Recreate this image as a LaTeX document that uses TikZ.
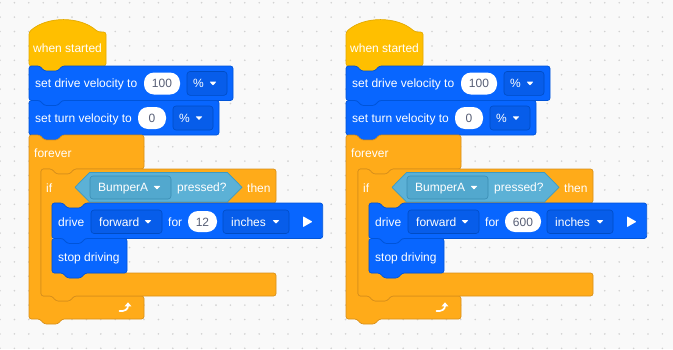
\documentclass[tikz,border=0pt]{standalone}
\usepackage{fontspec}
\setmainfont{Liberation Sans}
\definecolor{bg}{HTML}{F9F9F9}
\definecolor{dotc}{HTML}{D2D2D2}
\definecolor{hatf}{HTML}{FFBF00}
\definecolor{hatd}{HTML}{E3AA00}
\definecolor{ctlf}{HTML}{FFAB19}
\definecolor{ctld}{HTML}{D9901A}
\definecolor{drvf}{HTML}{0866FF}
\definecolor{drvd}{HTML}{0054D9}
\definecolor{ddf}{HTML}{075DEA}
\definecolor{ddd}{HTML}{004CC4}
\definecolor{senf}{HTML}{5CB1D6}
\definecolor{send}{HTML}{3D9BC2}
\definecolor{sddf}{HTML}{52A8CE}
\definecolor{sddd}{HTML}{3A8DB4}
\definecolor{valc}{HTML}{575E75}
\tikzset{
  blk/.style={line width=0.7pt, rounded corners=2.5pt, line join=round},
  hatb/.style={blk, fill=hatf, draw=hatd},
  ctl/.style={blk, fill=ctlf, draw=ctld},
  drv/.style={blk, fill=drvf, draw=drvd},
  dd/.style={fill=ddf, draw=ddd, line width=0.6pt, rounded corners=3pt},
  sdd/.style={fill=sddf, draw=sddd, line width=0.6pt, rounded corners=3pt},
  hexs/.style={fill=senf, draw=send, line width=0.7pt, line join=round},
  pillb/.style={fill=white, rounded corners=10pt},
  lbl/.style={text=white, inner sep=0pt, anchor=base west, font=\fontsize{12}{14}\selectfont},
  val/.style={text=valc, inner sep=0pt, anchor=base, font=\fontsize{12}{14}\selectfont},
}
% stack block: x y w h style
\newcommand\stackblk[5]{%
\draw[#5] (#1,{#2+#4/2}) -- (#1,#2) -- ({#1+11},#2) -- ({#1+15},{#2+5}) -- ({#1+29},{#2+5}) -- ({#1+33},#2) -- ({#1+#3},#2) -- ({#1+#3},{#2+#4}) -- ({#1+33},{#2+#4}) -- ({#1+29},{#2+#4+5}) -- ({#1+15},{#2+#4+5}) -- ({#1+11},{#2+#4}) -- (#1,{#2+#4}) -- cycle;}
% C block: x y w a xi b bw c style
\newcommand\cblk[9]{%
\draw[#9] (#1,{(#2+#4)/2}) -- (#1,#2) -- ({#1+11},#2) -- ({#1+15},{#2+5}) -- ({#1+29},{#2+5}) -- ({#1+33},#2) -- ({#1+#3},#2) -- ({#1+#3},#4) -- ({#5+33},#4) -- ({#5+29},{#4+5}) -- ({#5+15},{#4+5}) -- ({#5+11},#4) -- (#5,#4) -- (#5,#6) -- ({#5+11},#6) -- ({#5+15},{#6+5}) -- ({#5+29},{#6+5}) -- ({#5+33},#6) -- ({#1+#7},#6) -- ({#1+#7},#8) -- ({#1+33},#8) -- ({#1+29},{#8+5}) -- ({#1+15},{#8+5}) -- ({#1+11},#8) -- (#1,#8) -- cycle;}
\newcommand\ddtri[2]{%
\fill[white, rounded corners=0.5pt] ({#1-3.4},{#2-1.7}) -- ({#1+3.4},{#2-1.7}) -- (#1,{#2+2.1}) -- cycle;}
% one script: prefix, xshift, value, extra width
\newcommand\onescript[4]{%
\begin{scope}[xshift=#2]
\draw[hatb] (29,50) -- (29,32) .. controls (47,16) and (80,16) .. (98,32) -- (106,32) -- (106,66) -- (62,66) -- (58,71) -- (44,71) -- (40,66) -- (29,66) -- cycle;
\node[lbl] (#1ws) at (33,52.6) {when started};
\stackblk{29}{66}{204}{34.5}{drv}
\node[lbl] (#1sdv) at (35,87.7) {set drive velocity to};
\fill[pillb] (144,72.5) rectangle (180,94.5);
\node[val] (#1va) at (162,87.7) {100};
\draw[dd] (187,71.5) rectangle (227,95.3);
\node[lbl] (#1pa) at (193,87.7) {\%};
\ddtri{213}{83.4}
\stackblk{29}{100.5}{190}{34.5}{drv}
\node[lbl] (#1stv) at (35,122.3) {set turn velocity to};
\fill[pillb] (138,107) rectangle (166,129);
\node[val] (#1vb) at (152,122.3) {0};
\draw[dd] (173,106) rectangle (213,130);
\node[lbl] (#1pb) at (179,122.3) {\%};
\ddtri{199}{118}
\cblk{29}{135}{115}{169}{41}{296}{115}{319}{ctl}
\node[lbl] (#1fe) at (34,157.3) {forever};
\draw[white, line width=1.7pt, line cap=round] (119.5,311) .. controls (124.5,311.5) and (128,309.5) .. (128,306);
\fill[white] (124.6,306.3) -- (131.4,306.3) -- (128,302.3) -- cycle;
\cblk{41}{169}{235}{203}{52}{273}{235}{296}{ctl}
\node[lbl] (#1if) at (46,192.3) {if};
\draw[hexs] (75,187.3) -- (89.5,172.5) -- (227.5,172.5) -- (242,187.3) -- (227.5,202) -- (89.5,202) -- cycle;
\draw[sdd] (90,176) rectangle (171,199);
\node[lbl] (#1bu) at (98,191.6) {BumperA};
\ddtri{157}{187.5}
\node[lbl] (#1pr) at (177,191.6) {pressed?};
\node[lbl] (#1th) at (247,192.3) {then};
\stackblk{52}{203}{270.7+#4}{35.5}{drv}
\node[lbl] (#1dr) at (58,226) {drive};
\draw[dd] (91,210) rectangle (162,233.5);
\node[lbl] (#1fw) at (99,226) {forward};
\ddtri{148}{221.7}
\node[lbl] (#1fo) at (168,226) {for};
\fill[pillb] (188,211) rectangle ({217+#4},232);
\node[val] (#1vc) at ({202.5+#4/2},226) {#3};
\draw[dd] ({223+#4},210) rectangle ({289+#4},233.5);
\node[lbl] (#1in) at ({231+#4},226) {inches};
\ddtri{276+#4}{221.7}
\fill[white, rounded corners=0.6pt] ({303+#4},216.3) -- ({312.5+#4},221.7) -- ({303+#4},227.1) -- cycle;
\stackblk{52}{238.5}{75}{34.5}{drv}
\node[lbl] (#1sd) at (58,261) {stop driving};
\end{scope}}
\begin{document}
\begin{tikzpicture}[x=1pt,y=-1pt]
\useasboundingbox (0,0) rectangle (673,349);
\fill[bg] (0,0) rectangle (673,349);
\foreach \i in {0,...,46} \foreach \j in {0,...,24} \fill[dotc] ({14.4*\i},{2.7+14.4*\j}) circle (0.9pt);
\onescript{L}{0pt}{12}{0}
\onescript{R}{317pt}{600}{7}
\end{tikzpicture}
\end{document}
